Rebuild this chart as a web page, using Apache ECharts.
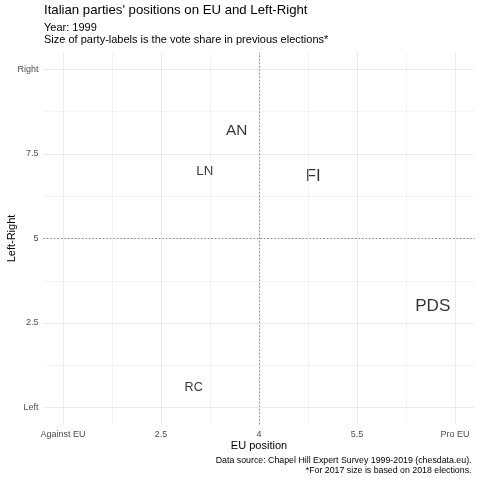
<!DOCTYPE html>
<html>
<head>
<meta charset="utf-8">
<script src="https://cdn.jsdelivr.net/npm/echarts@6/dist/echarts.min.js"></script>
<style>html,body{margin:0;padding:0;background:#fff}#c{width:480px;height:480px}</style>
</head>
<body>
<div id="c"></div>
<script>
var parties = ['AN', 'LN', 'FI', 'PDS', 'RC'];
var euPosition = [3.66, 3.17, 4.83, 6.66, 3.0];
var leftRight = [8.18, 6.98, 6.83, 2.98, 0.59];
var voteShare = [15.7, 10.1, 20.6, 21.1, 8.6];
var xTicks = [1, 2.5, 4, 5.5, 7];
var xTickLabels = ['Against EU', '2.5', '4', '5.5', 'Pro EU'];
var yTicks = [0, 2.5, 5, 7.5, 10];
var yTickLabels = ['Left', '2.5', '5', '7.5', 'Right'];
var xMinor = [1.75, 3.25, 4.75, 6.25];
var yMinor = [1.25, 3.75, 6.25, 8.75];

var FONT = '"Liberation Sans", Arial, Helvetica, sans-serif';
function sizeScale(v) { return 4.6 + 2.72 * Math.sqrt(v); }

var chart = echarts.init(document.getElementById('c'), null, {renderer: 'canvas'});

var gridLines = [];
xTicks.forEach(function (v) { gridLines.push({xAxis: v, lineStyle: {width: 1}}); });
xMinor.forEach(function (v) { gridLines.push({xAxis: v, lineStyle: {width: 0.6}}); });
yTicks.forEach(function (v) { gridLines.push({yAxis: v, lineStyle: {width: 1}}); });
yMinor.forEach(function (v) { gridLines.push({yAxis: v, lineStyle: {width: 0.6}}); });

var points = parties.map(function (p, i) {
  return {
    name: p,
    value: [euPosition[i], leftRight[i]],
    label: {fontSize: sizeScale(voteShare[i])}
  };
});

chart.setOption({
  animation: false,
  backgroundColor: '#ffffff',
  textStyle: {fontFamily: FONT},
  title: [
    {text: "Italian parties' positions on EU and Left-Right", left: 44, top: 3.7, padding: 0,
     textStyle: {fontFamily: FONT, fontSize: 13.2, fontWeight: 'normal', color: '#000', lineHeight: 14}},
    {text: 'Year: 1999\nSize of party-labels is the vote share in previous elections*', left: 44, top: 21.5, padding: 0,
     textStyle: {fontFamily: FONT, fontSize: 11, fontWeight: 'normal', color: '#000', lineHeight: 12}}
  ],
  graphic: [
    {type: 'text', style: {text: 'Data source: Chapel Hill Expert Survey 1999-2019 (chesdata.eu).\n*For 2017 size is based on 2018 elections.',
      x: 471.5, y: 466, align: 'right', verticalAlign: 'middle', lineHeight: 10, fontSize: 8.8, fontFamily: FONT, fill: '#000'}}
  ],
  grid: {left: 43.4, top: 52.6, width: 431.2, height: 371.8, containLabel: false, outerBoundsMode: 'none'},
  xAxis: {
    type: 'value', min: 0.7, max: 7.3,
    name: 'EU position', nameLocation: 'middle', nameGap: 16, nameMoveOverlap: false,
    nameTextStyle: {fontFamily: FONT, fontSize: 11, color: '#000'},
    axisLine: {show: false}, axisTick: {show: false}, splitLine: {show: false},
    axisLabel: {customValues: xTicks, fontSize: 9, color: '#4d4d4d', margin: 6, fontFamily: FONT,
      formatter: function (v) { var i = xTicks.indexOf(v); return i >= 0 ? xTickLabels[i] : ''; }}
  },
  yAxis: {
    type: 'value', min: -0.5, max: 10.5,
    name: 'Left-Right', nameLocation: 'middle', nameGap: 26, nameRotate: 90, nameMoveOverlap: false,
    nameTextStyle: {fontFamily: FONT, fontSize: 11, color: '#000'},
    axisLine: {show: false}, axisTick: {show: false}, splitLine: {show: false},
    axisLabel: {customValues: yTicks, fontSize: 9, color: '#4d4d4d', margin: 5, fontFamily: FONT,
      formatter: function (v) { var i = yTicks.indexOf(v); return i >= 0 ? yTickLabels[i] : ''; }}
  },
  series: [
    {
      type: 'scatter', data: [], silent: true, z: 1,
      markLine: {silent: true, symbol: ['none', 'none'], label: {show: false},
        lineStyle: {color: '#ebebeb', type: 'solid'}, data: gridLines, animation: false}
    },
    {
      type: 'scatter', data: [], silent: true, z: 2,
      markLine: {silent: true, symbol: ['none', 'none'], label: {show: false},
        lineStyle: {color: '#8a8a8a', type: [1.5, 2], width: 1},
        data: [{xAxis: 4}, {yAxis: 5}], animation: false}
    },
    {
      type: 'scatter', symbolSize: 0, z: 3,
      data: points,
      label: {show: true, position: 'inside', formatter: '{b}', color: '#000', fontFamily: FONT,
        textBorderWidth: 0, textShadowBlur: 0}
    }
  ]
});
</script>
</body>
</html>
